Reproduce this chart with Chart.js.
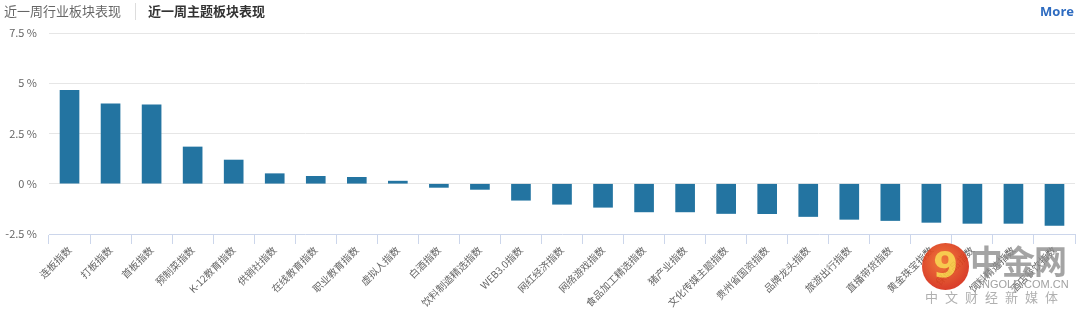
<!DOCTYPE html>
<html lang="zh">
<head>
<meta charset="UTF-8">
<title>近一周主题板块表现</title>
<script src="https://cdn.jsdelivr.net/npm/chart.js"></script>
<style>
  html, body { margin: 0; padding: 0; background: #fff; }
  body { width: 1080px; height: 314px; position: relative; overflow: hidden;
         font-family: "Noto Sans CJK SC", "Noto Sans", sans-serif; }
  #wrap { position: absolute; left: 0; top: 0; width: 1080px; height: 314px; }
  .tab { position: absolute; top: 2px; font-size: 13px; line-height: 18px; }
  #tab1 { left: 4px; color: #666; }
  #tab2 { left: 148px; color: #333; font-weight: bold; }
  #sep { position: absolute; left: 135px; top: 3px; width: 1px; height: 17px; background: #ddd; }
  #more { position: absolute; right: 6px; top: 2px; font-size: 13px; line-height: 18px;
          color: #2d6bc0; font-weight: bold; font-family: "Open Sans", sans-serif; }
  #logo { position: absolute; left: 922px; top: 243px; width: 158px; height: 71px; opacity: 0.92; }
  #logo .ball { position: absolute; left: 0; top: 0; width: 47px; height: 47px; border-radius: 50%;
                background: radial-gradient(circle at 45% 40%, #f0702a, #d7301a 70%); }
  #logo .nine { position: absolute; left: 0; top: 2px; width: 47px; text-align: center; font-size: 36px;
                line-height: 40px; font-weight: bold; color: #f7c640; font-family: "DejaVu Sans", sans-serif; }
  #logo .big { position: absolute; left: 48px; top: -3px; font-size: 33px; line-height: 40px; font-weight: bold;
               color: rgba(140,140,140,0.85); letter-spacing: -1px; }
  #logo .url { position: absolute; left: 52px; top: 35px; font-size: 11px; line-height: 12px; color: #999;
               font-family: "Liberation Sans", sans-serif; }
  #logo .sub { position: absolute; left: 3px; top: 46px; font-size: 13px; line-height: 16px; color: #aaa;
               letter-spacing: 7px; }
</style>
</head>
<body>
<div id="wrap"><canvas id="bars"></canvas></div>
<div class="tab" id="tab1">近一周行业板块表现</div>
<div id="sep"></div>
<div class="tab" id="tab2">近一周主题板块表现</div>
<div id="more">More</div>
<div id="logo">
  <div class="ball"></div>
  <div class="nine">9</div>
  <div class="big">中金网</div>
  <div class="url">CNGOLD.COM.CN</div>
  <div class="sub">中文财经新媒体</div>
</div>

<script>
  // theme indices, weekly change in %
  const categories = ['连板指数', '打板指数', '首板指数', '预制菜指数', 'K-12教育指数', '供销社指数',
    '在线教育指数', '职业教育指数', '虚拟人指数', '白酒指数', '饮料制造精选指数', 'WEB3.0指数',
    '网红经济指数', '网络游戏指数', '食品加工精选指数', '猪产业指数', '文化传媒主题指数',
    '贵州省国资指数', '品牌龙头指数', '旅游出行指数', '直播带货指数', '黄金珠宝指数',
    '保健品指数', '饲料精选指数', '酒店餐饮指数'];
  const weekChange = [4.65, 3.98, 3.93, 1.83, 1.18, 0.50, 0.37, 0.32, 0.13, -0.18, -0.28, -0.82,
    -1.02, -1.17, -1.40, -1.40, -1.48, -1.49, -1.63, -1.77, -1.83, -1.92, -1.97, -1.97, -2.07];
  const yTicks = [-2.5, 0, 2.5, 5, 7.5];

  const cjk = '"Noto Sans CJK SC", "Noto Sans", sans-serif';

  new Chart(document.getElementById('bars'), {
    type: 'bar',
    data: {
      labels: categories,
      datasets: [{
        label: '近一周涨跌幅',
        data: weekChange,
        backgroundColor: '#2374a1',
        borderWidth: 0,
        barThickness: 19
      }]
    },
    options: {
      responsive: true,
      maintainAspectRatio: false,
      animation: false,
      layout: { padding: { top: 33, right: 5, left: 0, bottom: 0 } },
      plugins: { legend: { display: false }, tooltip: { enabled: false } },
      scales: {
        x: {
          afterFit: s => { s.height = 80; },
          grid: { drawOnChartArea: false, color: '#ccd6eb', tickLength: 10 },
          border: { color: '#ccd6eb' },
          ticks: { minRotation: 45, maxRotation: 45, autoSkip: false, padding: 0,
                   color: '#666', font: { family: cjk, size: 10 } }
        },
        y: {
          min: yTicks[0],
          max: yTicks[yTicks.length - 1],
          afterFit: s => { s.width = 49; },
          afterBuildTicks: s => { s.ticks = yTicks.map(v => ({ value: v })); },
          border: { display: false },
          grid: { drawTicks: false, color: c => c.tick && c.tick.value === -2.5 ? 'rgba(0,0,0,0)' : '#e6e6e6' },
          ticks: { padding: 12, color: '#666', font: { family: cjk, size: 11 },
                   callback: v => v + ' %' }
        }
      }
    }
  });
</script>
</body>
</html>
